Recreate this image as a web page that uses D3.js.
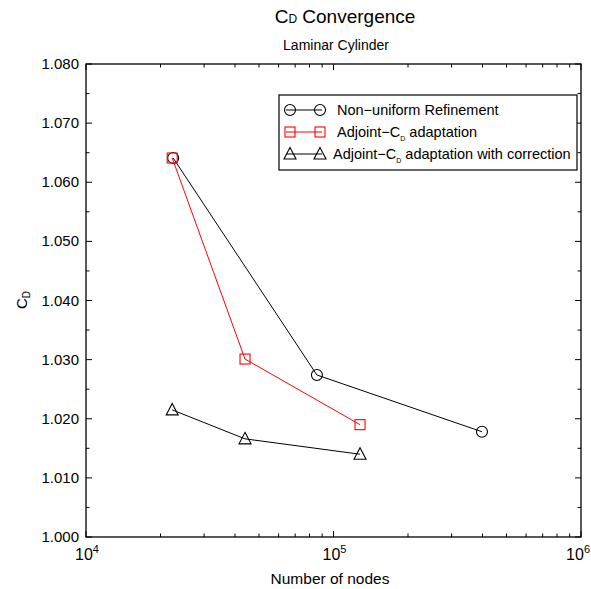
<!DOCTYPE html>
<html><head><meta charset="utf-8">
<script src="https://cdn.jsdelivr.net/npm/d3@7"></script>
<style>body{margin:0;background:#fff;} svg{display:block;} text{font-family:"Liberation Sans",Arial,Helvetica,sans-serif;}</style>
</head><body>
<svg id="c" width="591" height="589"></svg>
<script>
const seriesNames = ["Non\u2212uniform Refinement", "Adjoint\u2212C_D adaptation", "Adjoint\u2212C_D adaptation with correction"];
const seriesColors = ["#000000", "#ff0000", "#000000"];
const seriesMarkers = ["circle", "square", "triangle"];
const nonUniformNodes = [22500, 85700, 398000];
const nonUniformCD = [1.0641, 1.0274, 1.0178];
const adjointNodes = [22300, 43900, 128000];
const adjointCD = [1.0641, 1.0301, 1.0190];
const correctedNodes = [22300, 43900, 128000];
const correctedCD = [1.0215, 1.0166, 1.0140];
const yTicks = [1.000, 1.010, 1.020, 1.030, 1.040, 1.050, 1.060, 1.070, 1.080];
const xTickExps = [4, 5, 6];

const svg = d3.select("#c");
const L = 86, R = 581, T = 64, B = 537;
const x = d3.scaleLog().domain([1e4, 1e6]).range([L, R]);
const y = d3.scaleLinear().domain([1.0, 1.08]).range([B, T]);

// frame
svg.append("rect").attr("x", L).attr("y", T).attr("width", R - L).attr("height", B - T)
  .attr("fill", "none").attr("stroke", "#000").attr("stroke-width", 1.3);

// y ticks
const yMinor = d3.range(0, 17).map(i => 1.0 + i * 0.005);
yMinor.forEach((v, i) => {
  const len = i % 2 === 0 ? 6 : 3.5;
  const yy = y(v);
  svg.append("line").attr("x1", L).attr("x2", L + len).attr("y1", yy).attr("y2", yy).attr("stroke", "#000");
  svg.append("line").attr("x1", R).attr("x2", R - len).attr("y1", yy).attr("y2", yy).attr("stroke", "#000");
});
yTicks.forEach(v => {
  svg.append("text").attr("x", L - 7).attr("y", y(v) + 5).attr("text-anchor", "end")
    .attr("font-size", 15).text(v.toFixed(3));
});

// x ticks
const xMinor = [];
[1e4, 1e5].forEach(d => { for (let k = 2; k <= 9; k++) xMinor.push(k * d); });
xMinor.forEach(v => {
  const xx = x(v);
  svg.append("line").attr("x1", xx).attr("x2", xx).attr("y1", B).attr("y2", B - 3.5).attr("stroke", "#000");
  svg.append("line").attr("x1", xx).attr("x2", xx).attr("y1", T).attr("y2", T + 3.5).attr("stroke", "#000");
});
xTickExps.forEach((e, i) => {
  const xx = x(Math.pow(10, e));
  svg.append("line").attr("x1", xx).attr("x2", xx).attr("y1", B).attr("y2", B - 6).attr("stroke", "#000");
  svg.append("line").attr("x1", xx).attr("x2", xx).attr("y1", T).attr("y2", T + 6).attr("stroke", "#000");
  const last = i === xTickExps.length - 1;
  const t = svg.append("text").attr("x", last ? 590 : xx + 1).attr("y", B + 23)
    .attr("text-anchor", last ? "end" : "middle").attr("font-size", 16);
  t.append("tspan").text("10");
  t.append("tspan").attr("dy", -7).attr("font-size", 11).text(e);
});

// labels
svg.append("text").attr("x", 330).attr("y", 584).attr("text-anchor", "middle").attr("font-size", 15.5).text("Number of nodes");
const yl = svg.append("text").attr("transform", "translate(27,300) rotate(-90)").attr("text-anchor", "middle").attr("font-size", 15);
yl.append("tspan").text("C");
yl.append("tspan").attr("dy", 3).attr("font-size", 10).text("D");

const title = svg.append("text").attr("x", 345).attr("y", 23).attr("text-anchor", "middle").attr("font-size", 19);
title.append("tspan").text("C");
title.append("tspan").attr("font-size", 12).text("D");
title.append("tspan").text(" Convergence");
svg.append("text").attr("x", 336).attr("y", 50).attr("text-anchor", "middle").attr("font-size", 14).text("Laminar Cylinder");

// markers
function marker(g, type, cx, cy, color) {
  if (type === "circle") {
    g.append("circle").attr("cx", cx).attr("cy", cy).attr("r", 5.5).attr("fill", "none").attr("stroke", color).attr("stroke-width", 1.1);
  } else if (type === "square") {
    g.append("rect").attr("x", cx - 5).attr("y", cy - 5).attr("width", 10).attr("height", 10).attr("fill", "none").attr("stroke", color).attr("stroke-width", 1.1);
  } else {
    g.append("path").attr("d", `M${cx},${cy - 6.5}L${cx + 6},${cy + 5}L${cx - 6},${cy + 5}Z`).attr("fill", "none").attr("stroke", color).attr("stroke-width", 1.1);
  }
}

const allSeries = [
  [nonUniformNodes, nonUniformCD],
  [adjointNodes, adjointCD],
  [correctedNodes, correctedCD]
];
const line = d3.line().x(d => x(d[0])).y(d => y(d[1]));
allSeries.forEach((s, i) => {
  const pts = s[0].map((n, j) => [n, s[1][j]]);
  const g = svg.append("g");
  g.append("path").attr("d", line(pts)).attr("fill", "none").attr("stroke", seriesColors[i]).attr("stroke-width", 1);
  pts.forEach(p => marker(g, seriesMarkers[i], x(p[0]), y(p[1]), seriesColors[i]));
});

// legend
const lg = svg.append("g");
lg.append("rect").attr("x", 279).attr("y", 95).attr("width", 298).attr("height", 75)
  .attr("fill", "#fff").attr("stroke", "#000").attr("stroke-width", 1.2);
const rowY = [110, 132, 154];
seriesNames.forEach((name, i) => {
  const yy = rowY[i];
  lg.append("line").attr("x1", 286).attr("x2", 322).attr("y1", yy).attr("y2", yy).attr("stroke", seriesColors[i]);
  marker(lg, seriesMarkers[i], 290, yy, seriesColors[i]);
  marker(lg, seriesMarkers[i], 320, yy, seriesColors[i]);
  const t = lg.append("text").attr("x", i === 2 ? 333 : 337).attr("y", yy + 5).attr("font-size", 14.5);
  const parts = name.split("C_D");
  if (parts.length > 1) {
    t.append("tspan").text(parts[0] + "C");
    t.append("tspan").attr("dy", 4).attr("font-size", 7).text("D");
    t.append("tspan").attr("dy", -4).text(parts[1]);
  } else {
    t.text(name);
  }
});
</script>
</body></html>
